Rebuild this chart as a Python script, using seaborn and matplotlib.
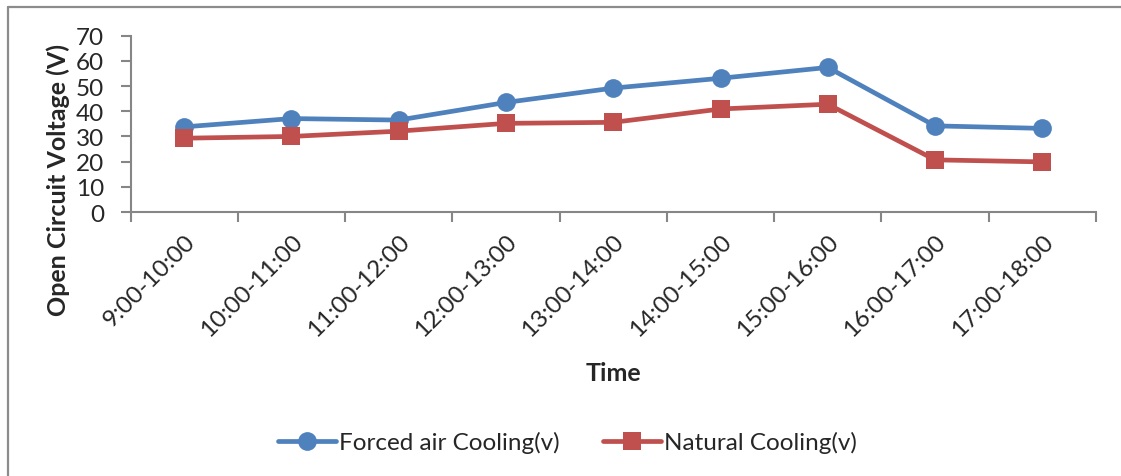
import matplotlib
matplotlib.use("Agg")
import matplotlib.pyplot as plt
from matplotlib.lines import Line2D
from matplotlib.ticker import FixedLocator, NullFormatter
import seaborn as sns
import pandas as pd

categories = ["9:00-10:00", "10:00-11:00", "11:00-12:00", "12:00-13:00", "13:00-14:00",
              "14:00-15:00", "15:00-16:00", "16:00-17:00", "17:00-18:00"]
forced_air = [33.8, 37.1, 36.5, 43.5, 49.2, 53.1, 57.4, 34.2, 33.2]
natural = [29.3, 30.0, 32.1, 35.2, 35.6, 40.9, 42.8, 20.7, 19.9]
series_names = ["Forced air Cooling(v)", "Natural Cooling(v)"]
y_ticks = [0, 10, 20, 30, 40, 50, 60, 70]

df = pd.DataFrame({
    "Time": categories * 2,
    "Voltage": forced_air + natural,
    "Series": [series_names[0]] * len(categories) + [series_names[1]] * len(categories),
})
df["pos"] = [i for i in range(len(categories))] * 2

sns.set_theme(style="white")
plt.rcParams["font.family"] = ["Lato", "DejaVu Sans"]

W, H = 1121, 477
AX_L, AX_R, AX_T, AX_B = 130.5, 1096, 36.7, 213
fig = plt.figure(figsize=(W / 100, H / 100), dpi=100)
ax = fig.add_axes([AX_L / W, 1 - AX_B / H, (AX_R - AX_L) / W, (AX_B - AX_T) / H])

colors = {series_names[0]: "#4F81BD", series_names[1]: "#C0504D"}
markers = {series_names[0]: "o", series_names[1]: "s"}
sns.lineplot(data=df, x="pos", y="Voltage", hue="Series", style="Series",
             palette=colors, markers=markers, dashes=False, linewidth=3.4,
             markersize=13.5, markeredgewidth=0, ax=ax, legend=False)

ax.set_xlim(-0.5, len(categories) - 0.5)
ax.set_ylim(0, 70)
ax.set_yticks(y_ticks)
ax.set_xticks(range(len(categories)))
ax.set_xticklabels(categories, rotation=45, ha="right", rotation_mode="anchor", fontsize=17.5)
ax.xaxis.set_minor_locator(FixedLocator([i - 0.5 for i in range(len(categories) + 1)]))
ax.xaxis.set_minor_formatter(NullFormatter())
ax.tick_params(axis="x", which="major", length=0, pad=13)
ax.tick_params(axis="x", which="minor", length=7, width=1.5, color="#868686", direction="out", bottom=True)
ax.tick_params(axis="y", length=7, width=1.5, color="#868686", direction="out", left=True, labelsize=17.5, pad=12)

for s in ["top", "right"]:
    ax.spines[s].set_visible(False)
for s in ["left", "bottom"]:
    ax.spines[s].set_color("#868686")
    ax.spines[s].set_linewidth(1.5)

ax.set_xlabel("Time", fontsize=18, fontweight="bold")
ax.set_ylabel("Open Circuit Voltage (V)", fontsize=18, fontweight="bold")
ax.xaxis.set_label_coords(0.5, -(362 - AX_B) / (AX_B - AX_T))
ax.yaxis.set_label_coords(-(AX_L - 70) / (AX_R - AX_L), (AX_B - 180) / (AX_B - AX_T))

handles = [Line2D([0], [0], color=colors[n], marker=markers[n], lw=3.4, markersize=13.5,
                  markeredgewidth=0) for n in series_names]
fig.legend(handles, series_names, loc="center", bbox_to_anchor=(0.506, 1 - 443 / H),
           ncol=2, frameon=False, fontsize=17.5, handlelength=2.4, columnspacing=1.8,
           handletextpad=0.1)

# chart area border (top and left visible)
fig.add_artist(Line2D([7.5 / W, 7.5 / W], [0, 1 - 7.5 / H], transform=fig.transFigure,
                      color="#8c8c8c", lw=1.6))
fig.add_artist(Line2D([7.5 / W, 1], [1 - 7.5 / H, 1 - 7.5 / H], transform=fig.transFigure,
                      color="#8c8c8c", lw=1.6))

fig.savefig("out.png", dpi=100)
